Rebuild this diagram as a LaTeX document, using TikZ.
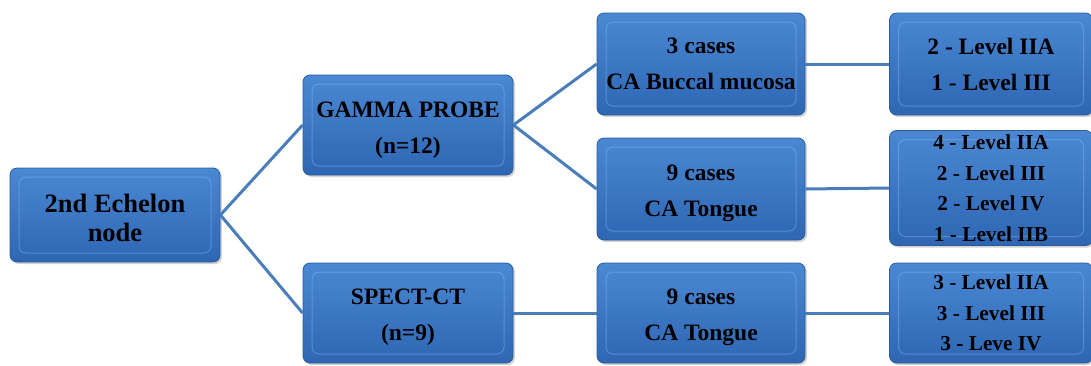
\documentclass[tikz,border=0pt]{standalone}
\usepackage{fontspec}
\setmainfont{Liberation Serif}
\usetikzlibrary{shadows}
\definecolor{boxtop}{HTML}{4A88D4}
\definecolor{boxbot}{HTML}{2E66B2}
\definecolor{boxrim}{HTML}{2A5C9C}
\definecolor{bevel}{HTML}{8FBCF0}
\definecolor{linkc}{HTML}{4A7EBB}
\newcommand\lowtxt[2]{\raisebox{0pt}[\dimexpr\height+#1\relax][\depth]{\begin{tabular}{@{}c@{}}#2\end{tabular}}}
\tikzset{
  x=1pt, y=-1pt,
  box/.style={rounded corners=7pt, top color=boxtop, bottom color=boxbot, draw=boxrim, line width=0.8pt,
    drop shadow={opacity=0.35, shadow xshift=2pt, shadow yshift=-2pt},
    minimum width=#1, minimum height=100pt, align=center, inner sep=0pt, text=black,
    path picture={\draw[bevel, line width=1pt, opacity=0.4]
      ([shift={(9pt,9pt)}]path picture bounding box.south west) rectangle ([shift={(-9pt,-9pt)}]path picture bounding box.north east);}},
  box/.default=210pt,
  big/.style={font=\bfseries\fontsize{23.5}{36}\selectfont},
  small/.style={font=\bfseries\fontsize{21.3}{30.5}\selectfont},
  link/.style={draw=linkc, line width=3pt}
}
\begin{document}
\begin{tikzpicture}
\useasboundingbox (0,0) rectangle (1091,365);
\node[box, font=\bfseries\fontsize{26.5}{29}\selectfont, minimum height=94pt] (root) at (115,215) {\lowtxt{12pt}{2nd Echelon\\node}};
\node[box, big] (gamma) at (408,125) {\lowtxt{7pt}{GAMMA PROBE\\(n=12)}};
\node[box, big] (spect) at (408,313) {\lowtxt{4pt}{SPECT-CT\\(n=9)}};
\node[box=208pt, big, minimum height=102pt] (bucc) at (701,64) {3 cases\\CA Buccal mucosa};
\node[box=208pt, big, minimum height=102pt] (tong1) at (701,189) {\lowtxt{5pt}{9 cases\\CA Tongue}};
\node[box=208pt, big] (tong2) at (701,313) {\lowtxt{4pt}{9 cases\\CA Tongue}};
\node[box=203pt, big, minimum height=102pt] (lv1) at (991,64) {2 - Level IIA\\1 - Level III};
\node[box=203pt, small, minimum height=115pt] (lv2) at (991,188) {4 - Level IIA\\2 - Level III\\2 - Level IV\\1 - Level IIB};
\node[box=203pt, small] (lv3) at (991,313) {3 - Level IIA\\3 - Level III\\3 - Leve IV};
\draw[link] (root.east) -- (gamma.west);
\draw[link] (root.east) -- (spect.west);
\draw[link] (gamma.east) -- (bucc.west);
\draw[link] (gamma.east) -- (tong1.west);
\draw[link] (spect.east) -- (tong2.west);
\draw[link] (bucc.east) -- (lv1.west);
\draw[link] (tong1.east) -- (lv2.west);
\draw[link] (tong2.east) -- (lv3.west);
\end{tikzpicture}
\end{document}
